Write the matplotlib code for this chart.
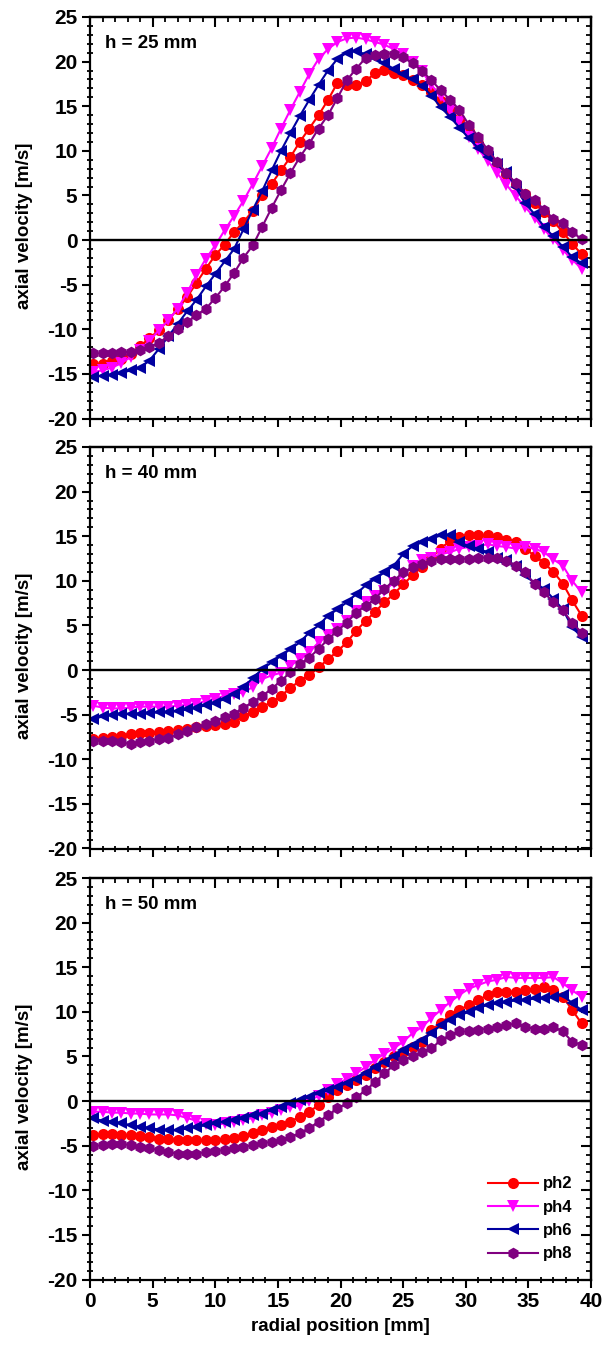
import matplotlib
matplotlib.use("Agg")
import matplotlib.pyplot as plt
from matplotlib.ticker import MultipleLocator

plt.rcParams['font.family'] = ['Liberation Sans', 'DejaVu Sans']
plt.rcParams['font.weight'] = 'bold'
plt.rcParams['axes.unicode_minus'] = False

# radial measurement positions [mm]
radius = [0.25, 1.0, 1.75, 2.5, 3.25, 4.0, 4.75, 5.5, 6.25, 7.0,
          7.75, 8.5, 9.25, 10.0, 10.75, 11.5, 12.25, 13.0, 13.75, 14.5,
          15.25, 16.0, 16.75, 17.5, 18.25, 19.0, 19.75, 20.5, 21.25, 22.0,
          22.75, 23.5, 24.25, 25.0, 25.75, 26.5, 27.25, 28.0, 28.75, 29.5,
          30.25, 31.0, 31.75, 32.5, 33.25, 34.0, 34.75, 35.5, 36.25, 37.0,
          37.75, 38.5, 39.25]

phases = ["ph2", "ph4", "ph6", "ph8"]
heights = ["h = 25 mm", "h = 40 mm", "h = 50 mm"]

# axial velocity [m/s] at h = 25 mm
ph2_h25 = [-13.9, -13.9, -13.6, -13.3, -12.8, -11.9, -11.0, -10.1, -9.0, -7.7,
           -6.4, -4.8, -3.2, -1.7, -0.5, 0.9, 2.0, 3.3, 5.0, 6.3,
           7.8, 9.3, 11.0, 12.5, 14.0, 15.7, 17.6, 17.4, 17.4, 17.8,
           18.7, 19.1, 18.7, 18.5, 17.9, 17.4, 16.6, 15.6, 14.6, 13.5,
           12.2, 10.9, 9.7, 8.5, 7.4, 6.3, 5.2, 4.1, 3.1, 2.1,
           0.9, -0.4, -1.6]
ph4_h25 = [-14.8, -14.6, -14.3, -13.8, -13.1, -12.3, -11.3, -10.1, -9.0, -7.7,
           -5.9, -3.9, -2.1, -0.6, 1.1, 2.7, 4.4, 6.3, 8.3, 10.3,
           12.5, 14.6, 16.6, 18.6, 20.3, 21.4, 22.2, 22.6, 22.7, 22.5,
           22.2, 21.9, 21.4, 20.8, 20.0, 18.9, 17.4, 16.1, 14.6, 13.2,
           11.6, 10.2, 8.9, 7.5, 6.2, 4.9, 3.7, 2.5, 1.2, 0.1,
           -1.1, -2.2, -3.2]
ph6_h25 = [-15.3, -15.2, -15.1, -14.9, -14.6, -14.3, -13.5, -12.2, -10.8, -9.4,
           -8.0, -6.7, -5.2, -3.8, -2.4, -1.0, 1.2, 3.4, 5.5, 7.8,
           10.0, 12.0, 13.9, 15.7, 17.4, 19.0, 20.3, 21.0, 21.2, 20.8,
           20.4, 19.8, 19.2, 18.6, 18.0, 17.3, 16.2, 14.9, 13.8, 12.6,
           11.4, 10.3, 9.3, 8.5, 7.6, 5.9, 4.1, 2.9, 1.5, 0.4,
           -0.75, -1.9, -2.6]
ph8_h25 = [-12.7, -12.7, -12.7, -12.6, -12.5, -12.3, -12.0, -11.5, -10.8, -10.0,
           -9.2, -8.4, -7.7, -6.5, -5.2, -3.7, -2.0, -0.6, 1.5, 3.6,
           5.6, 7.5, 9.3, 10.8, 12.5, 14.0, 15.9, 17.9, 19.2, 20.4,
           20.7, 20.9, 20.9, 20.5, 19.8, 19.0, 17.9, 16.8, 15.7, 14.6,
           12.9, 11.6, 10.1, 8.8, 7.5, 6.4, 5.2, 4.5, 3.4, 2.4,
           1.9, 0.9, 0.1]

# axial velocity [m/s] at h = 40 mm
ph2_h40 = [-7.7, -7.6, -7.5, -7.4, -7.2, -7.1, -7.0, -6.9, -6.8, -6.7,
           -6.6, -6.4, -6.3, -6.2, -6.0, -5.8, -5.2, -4.7, -4.1, -3.6,
           -2.9, -2.0, -1.2, -0.6, 0.3, 1.2, 2.1, 3.1, 4.4, 5.5,
           6.5, 7.6, 8.5, 9.6, 10.6, 11.6, 12.6, 13.6, 14.5, 14.9,
           15.1, 15.1, 15.1, 14.9, 14.6, 14.4, 13.6, 12.8, 12.0, 11.0,
           9.7, 7.8, 6.1]
ph4_h40 = [-4.0, -4.2, -4.3, -4.3, -4.2, -4.1, -4.1, -4.1, -4.1, -4.0,
           -3.9, -3.8, -3.45, -3.2, -2.9, -2.7, -2.5, -1.9, -1.0, -0.6,
           -0.3, 0.5, 1.2, 2.0, 3.1, 3.9, 4.6, 5.5, 6.6, 7.6,
           8.3, 8.9, 9.8, 10.6, 11.7, 12.3, 12.6, 13.0, 13.2, 13.6,
           13.8, 13.9, 14.1, 13.9, 13.8, 13.6, 13.8, 13.6, 13.2, 12.4,
           11.7, 10.0, 8.7]
ph6_h40 = [-5.5, -5.2, -5.0, -4.9, -4.9, -4.9, -4.8, -4.75, -4.7, -4.6,
           -4.4, -4.2, -3.95, -3.65, -3.25, -2.7, -1.9, -0.9, 0.1, 0.86,
           1.6, 2.35, 3.1, 4.2, 5.0, 6.1, 6.8, 7.6, 8.5, 9.5,
           10.2, 10.95, 11.7, 13.0, 13.9, 14.3, 14.7, 15.1, 15.1, 14.3,
           13.9, 13.6, 13.2, 12.6, 12.3, 11.7, 10.6, 9.8, 9.1, 8.0,
           6.8, 4.8, 3.7]
ph8_h40 = [-7.9, -7.9, -7.9, -8.1, -8.3, -8.1, -7.9, -7.7, -7.6, -7.2,
           -6.8, -6.4, -6.05, -5.7, -5.3, -4.9, -4.2, -3.6, -2.9, -2.1,
           -1.2, -0.26, 0.67, 1.4, 2.35, 3.45, 4.4, 5.3, 6.45, 7.2,
           7.95, 9.1, 10.0, 10.95, 11.5, 11.9, 12.25, 12.45, 12.45, 12.45,
           12.5, 12.6, 12.6, 12.6, 12.25, 11.7, 10.95, 9.6, 8.7, 7.6,
           6.7, 5.3, 4.2]

# axial velocity [m/s] at h = 50 mm
ph2_h50 = [-3.8, -3.7, -3.7, -3.8, -3.8, -3.95, -4.0, -4.2, -4.3, -4.35,
           -4.35, -4.35, -4.35, -4.35, -4.3, -4.1, -3.95, -3.6, -3.2, -2.9,
           -2.7, -2.3, -1.75, -1.2, -0.45, 0.5, 1.2, 1.8, 2.35, 2.9,
           3.7, 4.4, 5.0, 5.5, 6.1, 6.65, 7.95, 8.7, 9.6, 10.2,
           10.8, 11.3, 11.9, 12.25, 12.25, 12.25, 12.4, 12.6, 12.8, 12.4,
           11.7, 10.2, 8.7]
ph4_h50 = [-1.2, -1.2, -1.3, -1.3, -1.4, -1.4, -1.5, -1.5, -1.5, -1.6,
           -1.9, -2.2, -2.6, -2.7, -2.5, -2.3, -2.1, -1.9, -1.6, -1.3,
           -1.0, -0.7, -0.5, 0.0, 0.6, 1.2, 1.9, 2.5, 3.1, 3.8,
           4.6, 5.3, 5.9, 6.65, 7.6, 8.3, 9.3, 10.2, 11.1, 11.9,
           12.6, 13.0, 13.4, 13.6, 13.9, 13.8, 13.8, 13.8, 13.8, 13.9,
           13.2, 12.4, 11.7]
ph6_h50 = [-1.95, -2.2, -2.3, -2.5, -2.7, -2.9, -3.0, -3.2, -3.25, -3.3,
           -3.05, -2.9, -2.7, -2.5, -2.3, -2.1, -1.95, -1.6, -1.4, -1.0,
           -0.64, -0.26, 0.1, 0.49, 0.86, 1.2, 1.6, 1.98, 2.5, 3.1,
           3.8, 4.4, 5.0, 5.7, 6.3, 6.8, 7.6, 8.5, 9.1, 9.6,
           10.0, 10.4, 10.8, 10.95, 11.1, 11.3, 11.3, 11.5, 11.5, 11.7,
           11.9, 10.95, 10.2]
ph8_h50 = [-5.05, -4.95, -4.8, -4.8, -4.95, -5.1, -5.3, -5.5, -5.7, -5.9,
           -5.9, -5.9, -5.7, -5.6, -5.5, -5.3, -5.1, -4.95, -4.75, -4.56,
           -4.4, -4.0, -3.6, -3.05, -2.3, -1.6, -0.83, -0.26, 0.4, 1.2,
           2.1, 3.1, 4.0, 4.6, 5.0, 5.5, 5.9, 6.8, 7.4, 7.8,
           7.8, 8.0, 8.1, 8.3, 8.5, 8.7, 8.3, 8.1, 8.1, 8.3,
           7.8, 6.65, 6.3]

panels = [
    [ph2_h25, ph4_h25, ph6_h25, ph8_h25],
    [ph2_h40, ph4_h40, ph6_h40, ph8_h40],
    [ph2_h50, ph4_h50, ph6_h50, ph8_h50],
]

colors = ["#FF0000", "#FF00FF", "#0000A0", "#800080"]
markers = ["o", "v", "<", "h"]
msizes = [8.0, 9.2, 9.2, 8.4]

fig = plt.figure(figsize=(6.12, 13.53), dpi=100)
ax_left, ax_width = 90 / 612, 501 / 612
tops = [17, 447, 878]
ax_height_px = 401.5

axes = []
for k, (top, series_set, htext) in enumerate(zip(tops, panels, heights)):
    bottom = 1 - (top + ax_height_px) / 1353
    ax = fig.add_axes([ax_left, bottom, ax_width, ax_height_px / 1353])
    axes.append(ax)
    for vals, c, m, ms, name in zip(series_set, colors, markers, msizes, phases):
        ax.plot(radius, vals, color=c, marker=m, markersize=ms, lw=1.5,
                markeredgewidth=0, label=name, zorder=2)
    ax.axhline(0, color="black", lw=1.7, zorder=3.5)

    ax.set_xlim(0, 40)
    ax.set_ylim(-20, 25)
    for axis in (ax.xaxis, ax.yaxis):
        axis.set_major_locator(MultipleLocator(5))
        axis.set_minor_locator(MultipleLocator(1))
    ax.tick_params(which="major", direction="out", length=6, width=1.5,
                   labelsize=15, pad=3)
    ax.tick_params(which="minor", direction="inout", length=4, width=1.3)
    for sp in ax.spines.values():
        sp.set_linewidth(1.6)

    # inward ticks on the top and right edges
    secx = ax.secondary_xaxis("top")
    secy = ax.secondary_yaxis("right")
    for sec, axis in ((secx, secx.xaxis), (secy, secy.yaxis)):
        axis.set_major_locator(MultipleLocator(5))
        axis.set_minor_locator(MultipleLocator(1))
        sec.tick_params(which="major", direction="in", length=7, width=1.5)
        sec.tick_params(which="minor", direction="in", length=3.5, width=1.3)
        for sp in sec.spines.values():
            sp.set_linewidth(1.6)
    secx.tick_params(labeltop=False)
    secy.tick_params(labelright=False)

    ax.set_ylabel("axial velocity [m/s]", fontsize=13.5, fontweight="bold")
    ax.yaxis.set_label_coords(-0.114, 0.48)
    ax.text(0.03, 0.935, htext, transform=ax.transAxes, fontsize=13.5,
            fontweight="bold", ha="left", va="center")

    if k < 2:
        ax.tick_params(axis="x", labelbottom=False)
    else:
        ax.set_xlabel("radial position [mm]", fontsize=13.5,
                      fontweight="bold", labelpad=5)

leg = axes[2].legend(loc="lower left", bbox_to_anchor=(0.794, 0.045),
                     frameon=False, prop={"size": 12, "weight": "bold"},
                     handlelength=3.0, handletextpad=0.3, labelspacing=0.5,
                     borderpad=0, borderaxespad=0, numpoints=1)

fig.savefig("out.png", dpi=100)
